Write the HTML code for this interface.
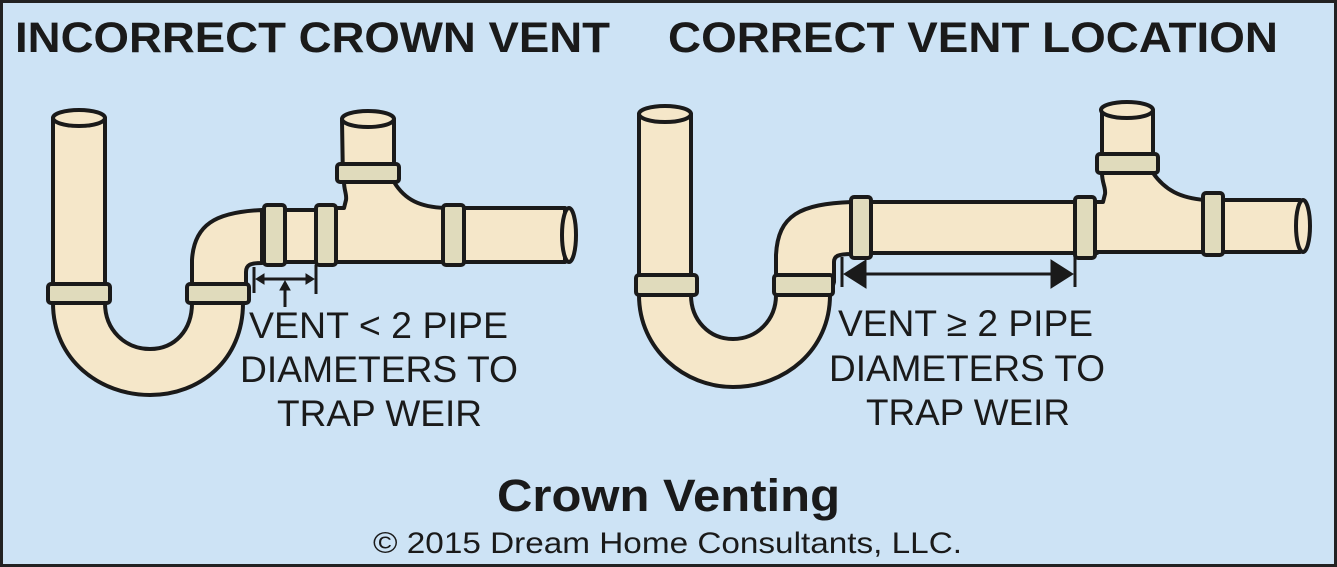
<!DOCTYPE html>
<html><head><meta charset="utf-8"><style>
html,body{margin:0;padding:0;background:#cde3f5}
svg{display:block}
text{font-family:"Liberation Sans",Arial,sans-serif;fill:#1a1a1a}
</style></head><body>
<svg width="1337" height="567" viewBox="0 0 1337 567" xmlns="http://www.w3.org/2000/svg">
<rect x="1.5" y="1.5" width="1334" height="564" fill="#cde3f5" stroke="#222" stroke-width="3"/>
<g stroke="#1a1a1a" stroke-width="4" stroke-linejoin="round" fill="#f5e7c9">
<path d="M53,118 L53,303 C53,360 100,395 150,395 C200,395 243,360 243,303 L246,290 L246,272 C246,265 250,263 262,263 L262,210 C215,212 194,225 192,260 L192,303 C192,330 175,349 150,349 C125,349 105,330 105,303 L105,118 Z"/>
<ellipse cx="79" cy="118" rx="26" ry="8"/>
<rect x="48" y="284" width="62" height="19" rx="3" fill="#e0dbbc"/>
<rect x="187" y="284" width="62" height="19" rx="3" fill="#e0dbbc"/>
<rect x="262" y="210" width="80" height="52"/>
<path d="M336,208 L344,208 L346,200 C347,195 344,190 344,182 L394,182 C405,200 420,207 445,208 L565,208 L565,262 L336,262 Z"/>
<path d="M343,182 L342,120 L394,120 L394,182 Z"/>
<ellipse cx="368" cy="119" rx="26" ry="8"/>
<ellipse cx="569" cy="235" rx="7" ry="27"/>
<rect x="337" y="164" width="62" height="18" rx="3" fill="#e0dbbc"/>
<rect x="264" y="205" width="21" height="60" rx="3" fill="#e0dbbc"/>
<rect x="316" y="205" width="20" height="60" rx="3" fill="#e0dbbc"/>
<rect x="443" y="205" width="21" height="60" rx="3" fill="#e0dbbc"/>

<path d="M639,114 L639,295 C639,350 685,387 733,387 C785,387 830,350 830,295 L834,282 L834,262 C834,256 838,254 852,254 L852,202 C800,204 778,215 776,255 L776,295 C776,320 757,339 733,339 C709,339 691,320 691,295 L691,114 Z"/>
<ellipse cx="665" cy="114" rx="26" ry="8"/>
<rect x="636" y="275" width="61" height="20" rx="3" fill="#e0dbbc"/>
<rect x="774" y="275" width="59" height="20" rx="3" fill="#e0dbbc"/>
<rect x="852" y="202" width="245" height="51"/>
<path d="M1095,202 L1103,202 L1105,194 C1106,188 1102,183 1102,173 L1153,173 C1165,190 1180,198 1205,200 L1300,200 L1300,252 L1095,252 Z"/>
<path d="M1102,173 L1102,111 L1153,111 L1153,173 Z"/>
<ellipse cx="1127" cy="110" rx="26" ry="8"/>
<ellipse cx="1303" cy="226" rx="7" ry="26"/>
<rect x="1097" y="154" width="61" height="19" rx="3" fill="#e0dbbc"/>
<rect x="851" y="197" width="20" height="61" rx="3" fill="#e0dbbc"/>
<rect x="1075" y="197" width="20" height="61" rx="3" fill="#e0dbbc"/>
<rect x="1203" y="193" width="20" height="62" rx="3" fill="#e0dbbc"/>
</g>
<g stroke="#1a1a1a" stroke-width="3" fill="#1a1a1a">
<line x1="254" y1="267" x2="254" y2="293"/>
<line x1="316" y1="265" x2="316" y2="294"/>
<line x1="262" y1="279" x2="308" y2="279"/>
<path d="M256,279 L264,274 L264,284 Z" stroke-width="1"/>
<path d="M314,279 L306,274 L306,284 Z" stroke-width="1"/>
<line x1="285" y1="307" x2="285" y2="288"/>
<path d="M285,281 L280,290 L290,290 Z" stroke-width="1"/>
<line x1="842" y1="257" x2="842" y2="287"/>
<line x1="1075" y1="257" x2="1075" y2="287"/>
<line x1="860" y1="274" x2="1056" y2="274"/>
<path d="M844,274 L866,260 L866,288 Z" stroke-width="1"/>
<path d="M1073,274 L1051,260 L1051,288 Z" stroke-width="1"/>
</g>
<text x="15" y="52" font-size="43" font-weight="bold" textLength="595" lengthAdjust="spacingAndGlyphs">INCORRECT CROWN VENT</text>
<text x="668" y="52" font-size="43" font-weight="bold" textLength="610" lengthAdjust="spacingAndGlyphs">CORRECT VENT LOCATION</text>
<g font-size="37" lengthAdjust="spacingAndGlyphs">
<text x="249" y="338" textLength="259" lengthAdjust="spacingAndGlyphs">VENT &lt; 2 PIPE</text>
<text x="240" y="382" textLength="278" lengthAdjust="spacingAndGlyphs">DIAMETERS TO</text>
<text x="277" y="426" textLength="205" lengthAdjust="spacingAndGlyphs">TRAP WEIR</text>
<text x="838" y="336" textLength="255" lengthAdjust="spacingAndGlyphs">VENT ≥ 2 PIPE</text>
<text x="829" y="381" textLength="276" lengthAdjust="spacingAndGlyphs">DIAMETERS TO</text>
<text x="866" y="425" textLength="204" lengthAdjust="spacingAndGlyphs">TRAP WEIR</text>
</g>
<text x="497" y="511" font-size="45" font-weight="bold" textLength="343" lengthAdjust="spacingAndGlyphs">Crown Venting</text>
<text x="373" y="553" font-size="30" textLength="589" lengthAdjust="spacingAndGlyphs">© 2015 Dream Home Consultants, LLC.</text>
</svg>
</body></html>
